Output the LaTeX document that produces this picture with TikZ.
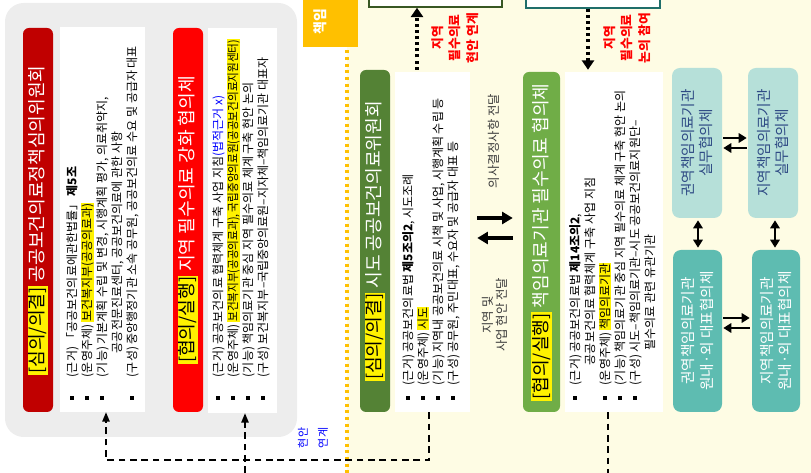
\documentclass[tikz,border=0pt]{standalone}
\usepackage{fontspec}
\usepackage{graphicx}
\setmainfont{Noto Sans CJK KR}
\usetikzlibrary{arrows.meta,fit,calc}

\definecolor{panelgray}{HTML}{EDEDED}
\definecolor{creambg}{HTML}{FEFCE4}
\definecolor{govred}{HTML}{C00000}
\definecolor{hotred}{HTML}{FF0000}
\definecolor{sidogreen}{HTML}{548235}
\definecolor{hospgreen}{HTML}{70AD47}
\definecolor{amber}{HTML}{FFC000}
\definecolor{paleteal}{HTML}{B6E0D9}
\definecolor{deepteal}{HTML}{5EBCB1}
\definecolor{navytext}{HTML}{2F4B85}
\definecolor{frameteal}{HTML}{1F6E6A}
\definecolor{framegreen}{HTML}{385723}
\definecolor{midgray}{HTML}{3A3A3A}

% yellow marker behind a phrase
\newcommand\hlite[1]{{\setlength{\fboxsep}{0.4pt}\colorbox{yellow}{#1}}}
\newcommand\titlehl[1]{{\setlength{\fboxsep}{0.8pt}\colorbox{yellow}{\color{black}#1}}}
% square bullet in a slot of the given width
\newcommand\bul[1]{\makebox[#1][l]{\raisebox{1.9pt}{\rule{3pt}{3pt}}}}

\begin{document}
\begin{tikzpicture}[x=0.75pt,y=-0.75pt,
  barbox/.style={inner sep=0pt, rounded corners=4.5pt},
  titletext/.style={rotate=90, inner sep=0pt, text=white, font=\fontsize{13.6pt}{16pt}\selectfont},
  sheet/.style={inner sep=0pt, fill=white},
  listtext/.style={rotate=90, anchor=north west, align=left, inner sep=0pt, font=\fontsize{9pt}{11.25pt}\selectfont},
  tealbox/.style={inner sep=0pt, rounded corners=6pt},
  tealtext/.style={rotate=90, align=center, inner sep=0pt, font=\fontsize{11pt}{14pt}\selectfont},
  redlabel/.style={rotate=90, align=center, inner sep=0pt, text=hotred, font=\bfseries\fontsize{9.6pt}{13pt}\selectfont},
  midlabel/.style={rotate=90, align=center, inner sep=0pt, text=midgray, font=\fontsize{9.3pt}{10.5pt}\selectfont},
  dashline/.style={draw=black, line width=1.1pt, dash pattern=on 5pt off 3.5pt},
  dashtip/.style={-{Triangle[length=7pt,width=5.5pt]}},
  dotarrow/.style={draw=black, line width=2.3pt, dash pattern=on 2.3pt off 2.3pt, -{Triangle[length=7pt,width=9pt]}},
  bigarrow/.style={draw=black, line width=3pt, -{Triangle[length=8pt,width=9pt]}},
  medarrow/.style={draw=black, line width=2.2pt, -{Triangle[length=6pt,width=7pt]}},
  duoarrow/.style={draw=black, line width=2.2pt, {Triangle[length=6pt,width=7pt]}-{Triangle[length=6pt,width=7pt]}}
]
\useasboundingbox (0,0) rectangle (811,473);
\clip (0,0) rectangle (811,473);

% backgrounds
\fill[creambg] (347,0) rectangle (811,473);
\node[fit={(5,3) (297,437)}, inner sep=0pt, fill=panelgray, rounded corners=14pt] (panel) {};

% national level: policy committee
\node[barbox, fill=govred, fit={(23,28) (53,412)}] (bar1) {};
\node[titletext] (title1) at (bar1.center) {\titlehl{[심의/의결]} 공공보건의료정책심의위원회};
\node[sheet, fit={(60,27) (145,412)}] (sheet1) {};
\node[listtext] (list1) at (66,400) {%
\bul{17pt}(근거) 「공공보건의료에관한법률」 \textbf{제5조}\\
\bul{17pt}(운영주체) \hlite{보건복지부(공공의료과)}\\
\bul{17pt}(기능) 기본계획 수립 및 변경, 시행계획 평가, 의료취약지,\\
\hspace*{35pt}공공전문진료센터, 공공보건의료에 관한 사항\\
\bul{17pt}(구성) 중앙행정기관 소속 공무원, 공공보건의료 수요 및 공급자 대표};

% national level: consultative body
\node[barbox, fill=hotred, fit={(173,28) (203,412)}] (bar2) {};
\node[titletext] (title2) at (bar2.center) {\titlehl{[협의/실행]} 지역 필수의료 강화 협의체};
\node[sheet, fit={(208,28) (277,413)}] (sheet2) {};
\node[listtext] (list2) at (212,400) {%
\bul{17pt}(근거) 공공보건의료 협력체계 구축 사업 지침\textcolor{blue}{(법적근거 x)}\\
\bul{17pt}(운영주체) \scalebox{0.88}[1]{\hlite{보건복지부(공공의료과), 국립중앙의료원(공공보건의료지원센터)}}\\
\bul{17pt}(기능) 책임의료기관 중심 지역 필수의료 체계 구축 현안 논의\\
\bul{17pt}(구성) 보건복지부–국립중앙의료원–지자체–책임의료기관 대표자};

% regional header, partly off the page
\node[fit={(303,-8) (358,47)}, inner sep=0pt, fill=amber] (amberbox) {};
\node[rotate=90, anchor=west, inner sep=0pt, text=white, font=\bfseries\fontsize{10.5pt}{12pt}\selectfont] (ambertext) at (320,35) {책임};
\coordinate (yl) at (347,473);
\draw[amber, line width=2.3pt, dash pattern=on 2.4pt off 2.6pt] (yl |- amberbox.south) ++(0,3) -- (yl);

% upper boxes, cut by the page edge
\node[fit={(369,-20) (502,7)}, inner sep=0pt, fill=white, draw=framegreen, line width=1.1pt] (top1) {};
\node[fit={(526,-20) (660,8)}, inner sep=0pt, fill=white, draw=frameteal, line width=1.1pt] (top2) {};

% regional committee
\node[barbox, fill=sidogreen, fit={(360,70) (390,412)}] (bar3) {};
\node[titletext] (title3) at (bar3.center) {\titlehl{[심의/의결]} 시도 공공보건의료위원회};
\node[sheet, fit={(395,72) (470,412)}] (sheetg) {};
\node[listtext] (list3) at (402,400) {%
\bul{11pt}(근거) 공공보건의료법 \textbf{제5조의2}, 시도조례\\
\bul{11pt}(운영주체) \hlite{시도}\\
\bul{11pt}(기능) 지역내 공공보건의료 시책 및 사업, 시행계획 수립 등\\
\bul{11pt}(구성) 공무원, 주민대표, 수요자 및 공급자 대표 등};

% hospital-led body
\node[barbox, fill=hospgreen, fit={(523,72) (560,412)}] (bar4) {};
\node[titletext] (title4) at (bar4.center) {\titlehl{[협의/실행]} 책임의료기관 필수의료 협의체};
\node[sheet, fit={(565,72) (663,412)}] (sheetlg) {};
\node[listtext] (list4) at (569,400) {%
\bul{11pt}(근거) 공공보건의료법 \textbf{제14조의2},\\
\hspace*{26pt}공공보건의료 협력체계 구축 사업 지침\\
\bul{11pt}(운영주체) \hlite{책임의료기관}\\
\bul{11pt}(기능) 책임의료기관 중심 지역 필수의료 체계 구축 현안 논의\\
\bul{11pt}(구성) 시도–책임의료기관–시도 공공보건의료지원단–\\
\hspace*{37pt}필수의료 관련 유관기관};

% working groups
\node[tealbox, fill=paleteal, fit={(672,68) (722,218)}] (tA) {};
\node[tealtext, text=navytext] (tAt) at (tA.center) {권역책임의료기관\\실무협의체};
\node[tealbox, fill=paleteal, fit={(748,68) (798,218)}] (tB) {};
\node[tealtext, text=navytext] (tBt) at (tB.center) {지역책임의료기관\\실무협의체};
\node[tealbox, fill=deepteal, fit={(673,250) (722,412)}] (tC) {};
\node[tealtext, text=white] (tCt) at (tC.center) {권역책임의료기관\\원내·외 대표협의체};
\node[tealbox, fill=deepteal, fit={(752,250) (800,412)}] (tD) {};
\node[tealtext, text=white] (tDt) at (tD.center) {지역책임의료기관\\원내·외 대표협의체};

\draw[medarrow] ($(tA.east)+(1,-5)$) -- ($(tB.west)+(-1,-5)$);
\draw[medarrow] ($(tB.west)+(-1,5)$) -- ($(tA.east)+(1,5)$);
\draw[medarrow] ($(tC.east)+(1,-13)$) -- ($(tD.west)+(-2,-13)$);
\draw[medarrow] ($(tD.west)+(-2,-3)$) -- ($(tC.east)+(1,-3)$);
\draw[duoarrow] ($(tA.south)+(1,2)$) -- ($(tC.north)+(0.5,-2)$);
\draw[duoarrow] ($(tB.south)+(2,2)$) -- ($(tD.north)+(-1,-2)$);

% exchange between the two regional bodies
\draw[bigarrow] ($(sheetg.east)+(7,-24)$) -- ($(bar4.west)+(-10,-24)$);
\draw[bigarrow] ($(bar4.west)+(-10,-4)$) -- ($(sheetg.east)+(7,-4)$);
\node[midlabel] (mid1) at (494,141) {의사결정사항 전달};
\node[midlabel] (mid2) at (495,315) {지역 및\\사업 현안 전달};

% links to the upper boxes
\coordinate (c1) at (417,0);
\coordinate (c2) at (588,0);
\draw[dotarrow] (c1 |- sheetg.north) ++(0,-2) -- (c1 |- top1.south);
\draw[dotarrow] (c2 |- top2.south) -- ($(c2 |- sheetlg.north)+(0,-2)$);
\node[redlabel] (lab1) at (455,38) {지역\\필수의료\\현안 연계};
\node[redlabel] (lab2) at (627,38) {지역\\필수의료\\논의 참여};

% issue links back to the national level
\coordinate (j1) at (106,460);
\coordinate (j3) at (429,460);
\coordinate (bot2) at (245,473);
\coordinate (bot3) at (608,473);
\draw[dashline, dashtip] (j3 |- sheetg.south) -- (j3) -- (j1) -- (j1 |- sheet1.south);
\draw[dashline, dashtip] (bot2) -- (bot2 |- sheet2.south);
\draw[dashline] (bot3 |- sheetlg.south) -- (bot3);
\node[rotate=90, align=center, inner sep=0pt, text=blue, font=\fontsize{8.3pt}{15pt}\selectfont] (linknote) at (313,438) {현안\\연계};
\end{tikzpicture}
\end{document}
